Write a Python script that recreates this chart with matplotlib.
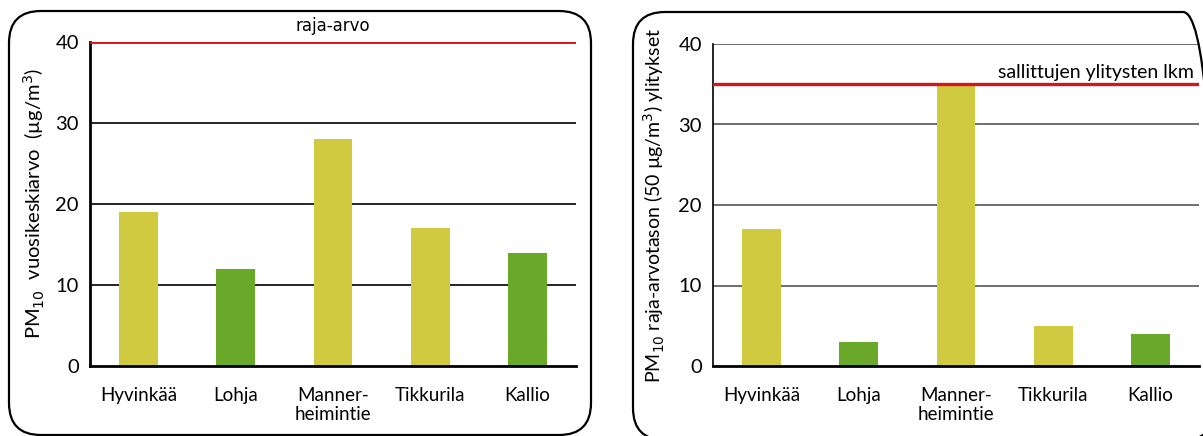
import matplotlib.pyplot as plt
from matplotlib.patches import FancyBboxPatch

plt.rcParams['font.family'] = ['Lato', 'DejaVu Sans']

# PM10 results per measuring station
stations = ['Hyvinkää', 'Lohja', 'Manner-\nheimintie', 'Tikkurila', 'Kallio']
annual_mean = [19, 12, 28, 17, 14]          # µg/m3
exceedances = [17, 3, 35, 5, 4]             # days above 50 µg/m3
bar_colors = ['#d0ca40', '#6aa829', '#d0ca40', '#d0ca40', '#6aa829']

limit_value = 40        # annual limit value
allowed_exceed = 35     # allowed number of exceedances
yticks = [0, 10, 20, 30, 40]

W, H = 1203, 436
fig = plt.figure(figsize=(W / 100, H / 100), dpi=100)


def px_axes(x0, y0, x1, y1):
    return fig.add_axes([x0 / W, 1 - y1 / H, (x1 - x0) / W, (y1 - y0) / H])


def frame(x0, y0, x1, y1):
    r = 32
    box = FancyBboxPatch((x0 / W, 1 - y1 / H), (x1 - x0) / W, (y1 - y0) / H,
                         boxstyle='round,pad=0,rounding_size=%f' % (r / W),
                         mutation_aspect=W / H,
                         transform=fig.transFigure, fill=False,
                         edgecolor='black', linewidth=1.6, clip_on=False)
    fig.patches.append(box)


def style(ax, spine_lw, grid_color):
    x = range(len(stations))
    ax.set_xlim(-0.5, len(stations) - 0.5)
    ax.set_ylim(0, 40)
    ax.set_yticks(yticks)
    ax.set_xticks(list(x))
    ax.set_xticklabels(stations, fontsize=13.5, linespacing=1.15)
    ax.tick_params(axis='both', length=0)
    ax.tick_params(axis='y', pad=8, labelsize=14.5)
    ax.tick_params(axis='x', pad=15)
    for tl in ax.get_xticklabels():
        tl.set_verticalalignment('top')
    ax.spines['top'].set_visible(False)
    ax.spines['right'].set_visible(False)
    ax.spines['left'].set_linewidth(spine_lw)
    ax.spines['bottom'].set_linewidth(2)
    for v in yticks[1:]:
        ax.axhline(v, color=grid_color, linewidth=1.2, zorder=0)


# left panel: annual mean
frame(9, 11, 591, 435)
ax1 = px_axes(90, 42, 576, 366)
ax1.bar(range(len(stations)), annual_mean, width=0.4, color=bar_colors, zorder=2)
style(ax1, 2, 'black')
ax1.axhline(limit_value, color='#d7141e', linewidth=2.8, zorder=3)
ax1.text(2, limit_value + 0.9, 'raja-arvo', ha='center', va='bottom',
         fontsize=12, family='DejaVu Sans')
ax1.set_ylabel('PM$_{10}$  vuosikeskiarvo  (µg/m$^3$)', fontsize=14.5, labelpad=6)

# right panel: number of exceedances
frame(633, 12, 1215, 440)
ax2 = px_axes(713, 44, 1199, 366)
ax2.bar(range(len(stations)), exceedances, width=0.4, color=bar_colors, zorder=2)
style(ax2, 1.2, '#555555')
ax2.axhline(allowed_exceed, color='#d7141e', linewidth=2.4, zorder=3)
ax2.text(4.45, allowed_exceed + 0.4, 'sallittujen ylitysten lkm', ha='right',
         va='bottom', fontsize=14)
ax2.set_ylabel('PM$_{10}$ raja-arvotason (50 µg/m$^3$) ylitykset', fontsize=14,
               labelpad=8)

fig.savefig('out.png', dpi=100)
